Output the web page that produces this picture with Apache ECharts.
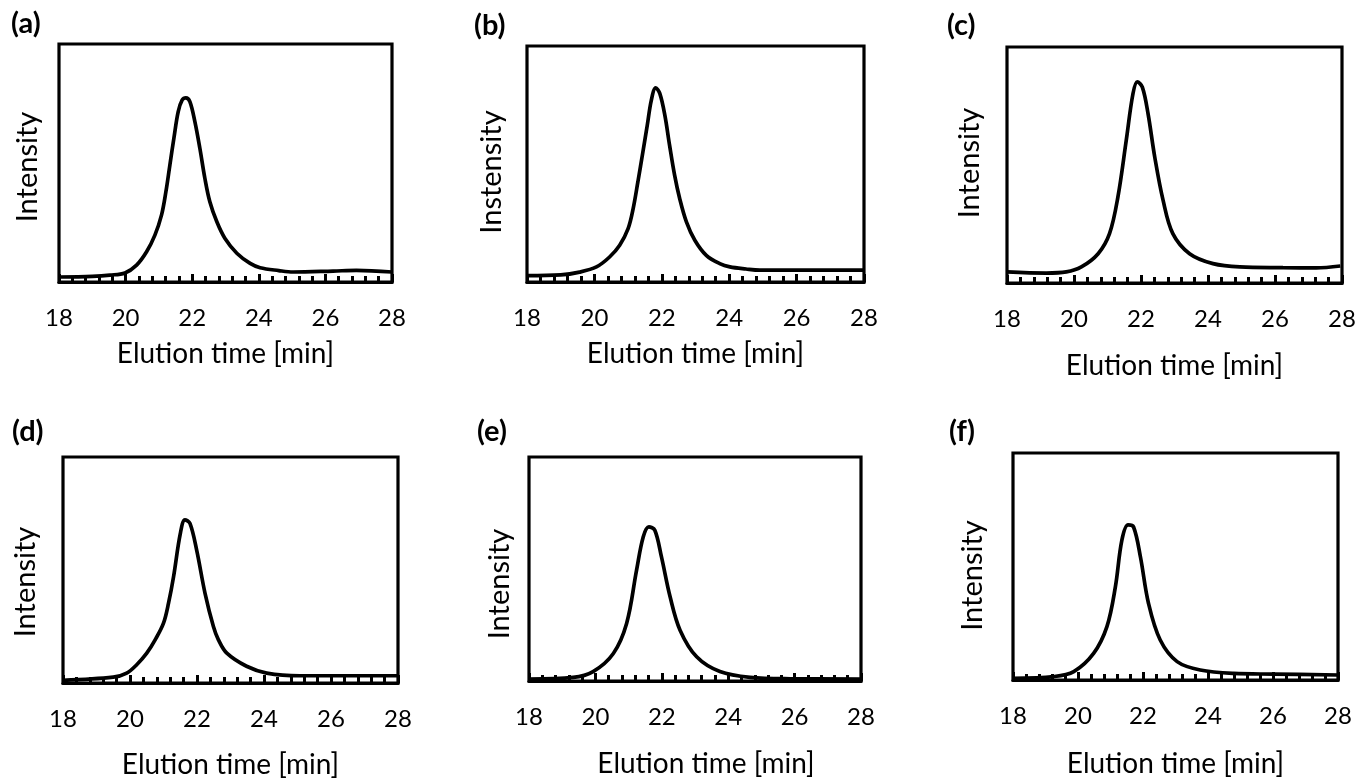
<!DOCTYPE html>
<html><head><meta charset="utf-8">
<script src="https://cdn.jsdelivr.net/npm/echarts@6/dist/echarts.min.js"></script>
<style>html,body{margin:0;padding:0;background:#fff}#c{width:1359px;height:781px}</style>
</head><body><div id="c"></div>
<script>
// ---------- data ----------
const panelLabels = ['(a)', '(b)', '(c)', '(d)', '(e)', '(f)'];
const yTitles = ['Intensity', 'Instensity', 'Intensity', 'Intensity', 'Intensity', 'Intensity'];
const xTitle = 'Elution time [min]';
const xTickLabels = ['18', '20', '22', '24', '26', '28'];

const timeA = [18, 19.0, 19.53, 19.98, 20.33, 20.63, 20.88, 21.08, 21.21, 21.33, 21.45, 21.58, 21.70, 21.81, 21.93, 22.08, 22.23, 22.38, 22.53, 22.74, 22.98, 23.34, 23.74, 24.04, 24.6, 25.03, 26.23, 26.93, 28];
const intA  = [2.1, 2.4, 2.9, 3.8, 7.1, 12.7, 19.7, 28.2, 37.9, 49.2, 60.4, 71.6, 76.5, 77.4, 75.8, 67.4, 56.2, 43.6, 33.7, 25.3, 18.4, 12.1, 7.8, 6.0, 4.8, 4.2, 4.6, 4.9, 4.2];

const timeB = [18, 19.0, 19.56, 20.06, 20.45, 20.75, 21.0, 21.15, 21.29, 21.44, 21.57, 21.69, 21.82, 21.94, 22.09, 22.23, 22.38, 22.53, 22.73, 22.98, 23.32, 23.72, 24.02, 24.5, 24.91, 26.3, 28];
const intB  = [2.7, 3.0, 4.2, 6.4, 10.6, 15.6, 22.6, 31.1, 42.4, 55.2, 66.5, 77.1, 82.3, 79.9, 70.7, 58.0, 45.3, 35.4, 25.5, 17.7, 11.3, 7.8, 6.4, 5.5, 5.0, 5.0, 5.0];

const timeC = [18, 19.17, 19.77, 20.22, 20.72, 21.06, 21.31, 21.56, 21.76, 21.89, 22.04, 22.21, 22.41, 22.66, 22.95, 23.45, 24.15, 24.95, 26.24, 27.23, 27.95];
const intC  = [4.7, 4.2, 4.7, 6.8, 12.4, 20.9, 36.4, 60.5, 80.2, 85.2, 83, 71.8, 53.4, 35, 20.9, 12.4, 8.2, 6.8, 6.5, 6.4, 7.2];

const timeD = [18, 19.5, 19.9, 20.2, 20.5, 20.75, 21.0, 21.15, 21.3, 21.5, 21.64, 21.79, 21.99, 22.24, 22.49, 22.64, 22.89, 23.48, 24.08, 25.07, 28];
const intD  = [1.2, 2.6, 4.4, 8.1, 13.2, 19.1, 26.5, 35.3, 47, 66, 72.2, 70.6, 58.8, 39.7, 25, 19.1, 13.2, 7.4, 4.4, 3.2, 3.2];

const timeE = [18, 19.33, 19.93, 20.54, 20.94, 21.24, 21.44, 21.61, 21.79, 21.99, 22.25, 22.55, 23.05, 23.75, 24.66, 25.87, 28];
const intE  = [0.9, 1.6, 4.2, 12.3, 25.7, 49.5, 64.3, 68.8, 67.3, 55.4, 37.6, 22.7, 10.8, 4.2, 1.6, 1.0, 0.9];

const timeF = [18, 19.25, 19.87, 20.48, 20.89, 21.15, 21.35, 21.54, 21.71, 21.92, 22.17, 22.53, 23.05, 23.76, 24.79, 26.02, 28];
const intF  = [0.7, 1.5, 3.7, 11.7, 23.5, 41, 61.6, 68.3, 67.4, 54.3, 33.7, 17.6, 8.1, 4.4, 2.9, 2.6, 2.2];

const times = [timeA, timeB, timeC, timeD, timeE, timeF];
const intensities = [intA, intB, intC, intD, intE, intF];

// ---------- layout ----------
const layout = [
  { left: 59,   top: 44,  width: 333, height: 238, lx: 11,  ly: 9,   gx: 58, gy: 17, yOff: 4,  xOff: 0 },
  { left: 527,  top: 46,  width: 337, height: 236, lx: 474, ly: 11,  gx: 58, gy: 21, yOff: 8,  xOff: 0 },
  { left: 1007, top: 47,  width: 335, height: 236, lx: 947, ly: 11,  gx: 69, gy: 23, yOff: -2, xOff: 0 },
  { left: 63,   top: 457, width: 335, height: 226, lx: 12,  ly: 417, gx: 68, gy: 23, yOff: 12, xOff: 0 },
  { left: 529,  top: 457, width: 332, height: 224, lx: 477, ly: 417, gx: 69, gy: 15, yOff: 15, xOff: 11 },
  { left: 1013, top: 453, width: 325, height: 227, lx: 949, ly: 417, gx: 70, gy: 26, yOff: 9,  xOff: 0 }
];

const FONT = 'Lato';
const chart = echarts.init(document.getElementById('c'), null, { renderer: 'canvas' });

const grids = [], xAxes = [], yAxes = [], series = [], titles = [];
layout.forEach((L, i) => {
  grids.push({
    left: L.left, top: L.top, width: L.width, height: L.height,
    show: true, borderColor: '#000', borderWidth: 3.2, backgroundColor: '#fff'
  });
  xAxes.push({
    gridIndex: i, type: 'value', min: 18, max: 28, interval: 2,
    name: xTitle, nameLocation: 'middle', nameGap: L.gx,
    nameTextStyle: { fontFamily: FONT, fontSize: 28, color: '#000',
      padding: L.xOff > 0 ? [0, 0, 0, 2 * L.xOff] : 0 },
    axisLine: { show: true, onZero: false, lineStyle: { color: '#000', width: 3.2 } },
    axisTick: { show: true, inside: true, length: 8, lineStyle: { color: '#000', width: 3 } },
    minorTick: { show: true, splitNumber: 5, length: 6, lineStyle: { color: '#000', width: 3 } },
    axisLabel: { fontFamily: FONT, fontSize: 24, color: '#000', margin: 24,
      formatter: v => xTickLabels[Math.round((v - 18) / 2)] ?? '' },
    splitLine: { show: false }
  });
  yAxes.push({
    gridIndex: i, type: 'value', min: 0, max: 100,
    name: yTitles[i], nameLocation: 'middle', nameGap: L.gy,
    nameTextStyle: { fontFamily: FONT, fontSize: 29, color: '#000',
      padding: L.yOff > 0 ? [0, 2 * L.yOff, 0, 0] : [0, 0, 0, -2 * L.yOff] },
    axisLine: { show: false }, axisTick: { show: false }, axisLabel: { show: false },
    splitLine: { show: false }
  });
  series.push({
    type: 'line', xAxisIndex: i, yAxisIndex: i,
    data: times[i].map((t, k) => [t, intensities[i][k]]),
    smooth: 0.35, showSymbol: false, symbol: 'none',
    lineStyle: { color: '#000', width: 3.7 }, silent: true, z: 3
  });
  titles.push({
    text: panelLabels[i], left: L.lx, top: L.ly, padding: 0,
    textStyle: { fontFamily: FONT, fontSize: 29, fontWeight: 'bold', color: '#000' }
  });
});

chart.setOption({
  backgroundColor: '#fff',
  animation: false,
  title: titles,
  grid: grids,
  xAxis: xAxes,
  yAxis: yAxes,
  series: series
});
</script>
</body></html>
